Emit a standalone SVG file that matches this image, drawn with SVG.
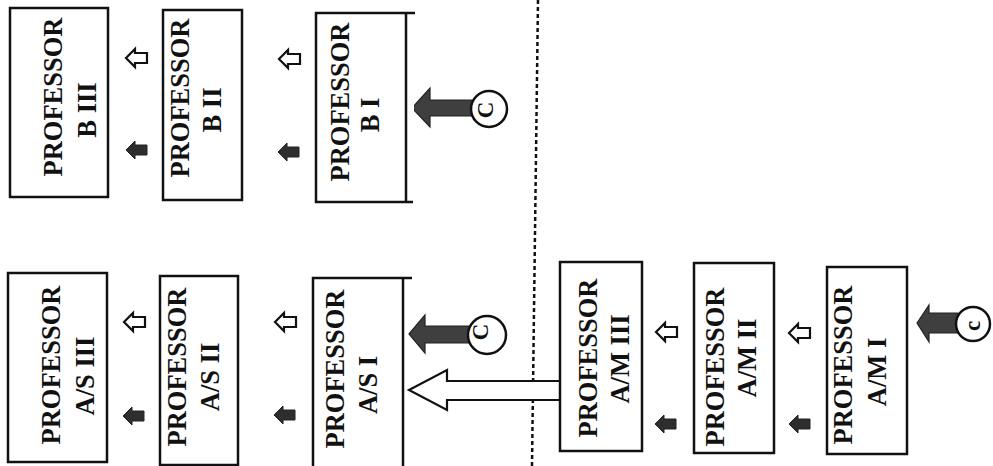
<svg xmlns="http://www.w3.org/2000/svg" width="993" height="466" viewBox="0 0 993 466">
<style>
.box{fill:#fff;stroke:#111;stroke-width:2.5}
.t{font-family:"Liberation Serif","Times New Roman",serif;font-weight:bold;font-size:26.5px;fill:#111;text-anchor:middle}
.ct{font-family:"Liberation Serif","Times New Roman",serif;font-weight:bold;font-size:23px;fill:#111;text-anchor:middle}
.hol{fill:#fff;stroke:#111;stroke-width:2.2;stroke-linejoin:miter}
.fil{fill:#2e2e2e;stroke:#222;stroke-width:1}
.big{fill:#3f3f3f;stroke:#222;stroke-width:1.2}
.circ{fill:#fff;stroke:#111;stroke-width:2.5}
.div{stroke:#111;stroke-width:2.5;stroke-dasharray:4 3;fill:none}
</style>
<defs>
<path id="sa" d="M0,0 L9,-9 L9,-5 L21,-5 L21,5 L9,5 L9,9 Z"/>
</defs>
<rect width="993" height="466" fill="#fff"/>

<g id="connectors">
<line class="div" x1="538" y1="0" x2="532" y2="466"/>
<!-- small arrows B -->
<use href="#sa" class="hol" x="126" y="58"/>
<use href="#sa" class="fil" x="126" y="150"/>
<use href="#sa" class="hol" x="279" y="59"/>
<use href="#sa" class="fil" x="278" y="152"/>
<!-- small arrows A/S -->
<use href="#sa" class="hol" x="124" y="322"/>
<use href="#sa" class="fil" x="123" y="416"/>
<use href="#sa" class="hol" x="275" y="322"/>
<use href="#sa" class="fil" x="274" y="415"/>
<!-- small arrows A/M -->
<use href="#sa" class="hol" x="656" y="332"/>
<use href="#sa" class="fil" x="655" y="424"/>
<use href="#sa" class="hol" x="789" y="333"/>
<use href="#sa" class="fil" x="789" y="424"/>
<!-- big filled arrows -->
<path class="big" d="M412,108 L430,88 L430,100 L473,100 L473,116 L430,116 L430,127 Z"/>
<path class="big" d="M409,334 L425,315 L425,326 L470,326 L470,343 L425,343 L425,353 Z"/>
<path class="big" d="M917,323 L929,305 L929,313 L958,313 L958,333 L929,333 L929,342 Z"/>
<!-- hollow transfer arrow -->
<path class="hol" stroke-width="2.5" d="M409,390 L447,370 L447,381 L561,381 L561,400 L447,400 L447,410 Z"/>
</g>

<g id="circle-b">
<circle class="circ" cx="489" cy="109" r="18"/>
<text class="ct" transform="translate(493,110) rotate(-90)">C</text>
</g>
<g id="circle-as">
<circle class="circ" cx="487" cy="335" r="19"/>
<text class="ct" transform="translate(488,332) rotate(-90)">C</text>
</g>
<g id="circle-am">
<circle class="circ" cx="973" cy="324" r="17"/>
<text class="ct" font-size="26" transform="translate(980,326) rotate(-90)">c</text>
</g>

<g id="b3">
<rect class="box" x="10" y="8" width="98" height="189"/>
<text class="t" transform="translate(62,97) rotate(-90)">PROFESSOR</text>
<text class="t" transform="translate(96,110) rotate(-90)">B III</text>
</g>
<g id="b2">
<rect class="box" x="163" y="10" width="79" height="190"/>
<text class="t" transform="translate(189,98) rotate(-90)">PROFESSOR</text>
<text class="t" transform="translate(221,110) rotate(-90)">B II</text>
</g>
<g id="b1">
<path class="box" fill="none" d="M415,13 L316,13 L316,202 L413,202 M406,13 L406,202"/>
<text class="t" transform="translate(349,102) rotate(-90)">PROFESSOR</text>
<text class="t" transform="translate(379,115) rotate(-90)">B I</text>
</g>

<g id="as3">
<rect class="box" x="8" y="273" width="99" height="189"/>
<text class="t" transform="translate(60,365) rotate(-90)">PROFESSOR</text>
<text class="t" transform="translate(94,376) rotate(-90)">A/S III</text>
</g>
<g id="as2">
<rect class="box" x="160" y="276" width="78" height="189"/>
<text class="t" transform="translate(186,367) rotate(-90)">PROFESSOR</text>
<text class="t" transform="translate(219,377) rotate(-90)">A/S II</text>
</g>
<g id="as1">
<path class="box" fill="none" d="M412,278 L313,278 L313,470 M403,278 L403,470"/>
<text class="t" transform="translate(344,369) rotate(-90)">PROFESSOR</text>
<text class="t" transform="translate(377,385) rotate(-90)">A/S I</text>
</g>

<g id="am3">
<rect class="box" x="560" y="262" width="82" height="189"/>
<text class="t" transform="translate(597,358) rotate(-90)">PROFESSOR</text>
<text class="t" transform="translate(629,359) rotate(-90)">A/M III</text>
</g>
<g id="am2">
<rect class="box" x="694" y="263" width="80" height="190"/>
<text class="t" transform="translate(724,367) rotate(-90)">PROFESSOR</text>
<text class="t" transform="translate(756,358) rotate(-90)">A/M II</text>
</g>
<g id="am1">
<rect class="box" x="827" y="267" width="80" height="187"/>
<text class="t" transform="translate(852,365) rotate(-90)">PROFESSOR</text>
<text class="t" transform="translate(886,372) rotate(-90)">A/M I</text>
</g>
</svg>
